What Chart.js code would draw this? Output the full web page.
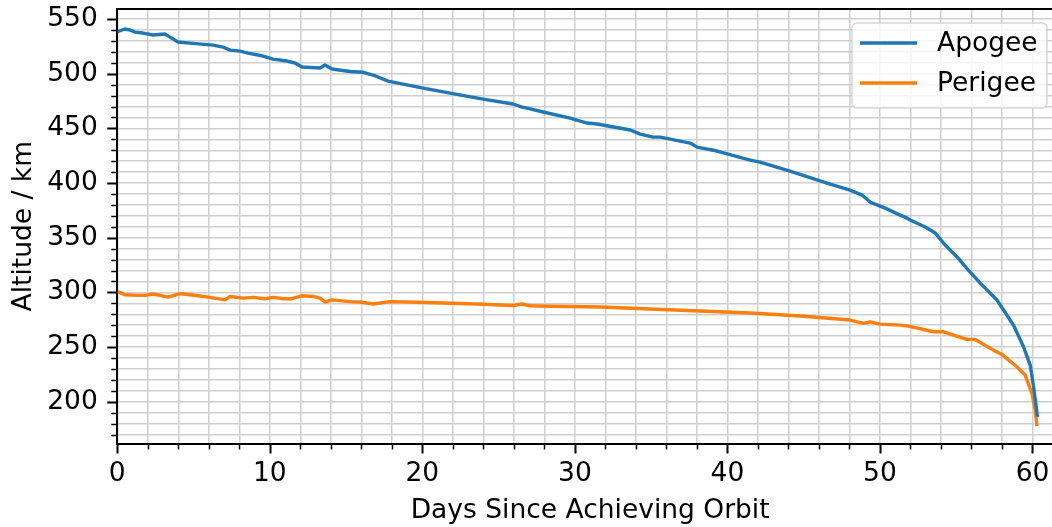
<!DOCTYPE html>
<html>
<head>
<meta charset="utf-8">
<script src="https://cdn.jsdelivr.net/npm/chart.js@4"></script>
<style>
  html, body { margin: 0; padding: 0; background: #fff; overflow: hidden; }
  #wrap { width: 1063px; height: 527px; }
</style>
</head>
<body>
<div id="wrap"><canvas id="orbitChart"></canvas></div>
<script>
// Orbit decay data
const apogeeDays = [0, 0.5, 0.83, 1.16, 1.69, 2.34, 3.13, 3.46, 3.98, 4.77, 6.28, 6.92, 7.39, 8.05, 8.57, 9.55, 10.21, 11.13, 11.65, 12.11, 13.29, 13.62, 14.08, 15.26, 16.11, 16.77, 17.75, 20.05, 21.82, 23.98, 25.95, 26.54, 26.87, 27.92, 29.69, 30.8, 31.46, 33.63, 34.28, 35.13, 35.6, 37.56, 38.01, 39.32, 41.49, 42.14, 44.1, 46.73, 48.04, 48.83, 49.35, 50.34, 51.32, 51.65, 51.98, 52.97, 53.62, 54.28, 55.07, 55.79, 56.58, 57.67, 58.75, 59.41, 59.85, 60.07, 60.33];
const apogeeKm = [538.5, 540.9, 540, 538.1, 537.2, 535.4, 536.3, 533.5, 529, 528, 526.2, 524.4, 521.6, 520.7, 518.9, 516.2, 513.4, 511.6, 509.8, 506.1, 505.2, 507.9, 504.3, 502, 501.3, 498.8, 493.3, 486.9, 482.3, 476.8, 472.3, 469.5, 468.6, 465, 459.4, 454.9, 454, 448.5, 444.8, 442, 442, 436.6, 432.9, 429.3, 421, 419.2, 411, 399.1, 393.6, 389, 382.6, 377.1, 370.7, 368.9, 366.2, 359.8, 354.3, 343.3, 332.3, 320.4, 308.5, 293, 270.1, 250.3, 233.5, 213.7, 186];

const perigeeDays = [0, 0.5, 1.27, 1.82, 2.36, 3.34, 4.11, 4.77, 6.08, 7.06, 7.39, 8.26, 8.92, 9.69, 10.23, 10.89, 11.44, 12.09, 12.85, 13.29, 13.62, 14.06, 15.26, 15.92, 16.79, 17.88, 20.29, 23.57, 25.97, 26.52, 27.06, 28.37, 31.7, 34.9, 38.2, 41.5, 44.8, 48.04, 48.92, 49.36, 50.01, 51.32, 51.87, 53.51, 54.16, 55.7, 56.24, 57.44, 57.99, 58.97, 59.52, 59.96, 60.18, 60.29];
const perigeeKm = [300.8, 297.9, 297.3, 297.3, 298.5, 295.7, 298.8, 297.9, 295.4, 293.2, 296.3, 294.8, 295.4, 294.2, 295.4, 294.2, 294.2, 296.9, 296.3, 294.8, 291.2, 293.2, 291.6, 291.2, 289.4, 291.6, 290.7, 289.4, 288, 289.4, 287.8, 287.3, 286.6, 284.8, 283, 281.2, 278.4, 274.7, 271.7, 273.1, 271, 270.1, 269.2, 264, 264, 257, 257, 247.2, 243.3, 232, 224.4, 207.7, 192.4, 177.7];

// axes: majors get a label, every tick gets a grid line
const xTicks = [0, 2, 4, 6, 8, 10, 12, 14, 16, 18, 20, 22, 24, 26, 28, 30, 32, 34, 36, 38, 40, 42, 44, 46, 48, 50, 52, 54, 56, 58, 60];
const xMajor = [0, 10, 20, 30, 40, 50, 60];
const yTicks = [170, 180, 190, 200, 210, 220, 230, 240, 250, 260, 270, 280, 290, 300, 310, 320, 330, 340, 350, 360, 370, 380, 390, 400, 410, 420, 430, 440, 450, 460, 470, 480, 490, 500, 510, 520, 530, 540, 550];
const yMajor = [200, 250, 300, 350, 400, 450, 500, 550];

const BLUE = '#1f77b4';
const ORANGE = '#ff7f0e';
const GRID = '#cfcfcf';
const FONT_SIZE = 26.5;
const LINE_W = 3.4;

function toPoints(xs, ys) {
  return xs.map((x, i) => ({ x: x, y: ys[i] }));
}

Chart.defaults.font.family = "'DejaVu Sans', sans-serif";
Chart.defaults.font.size = FONT_SIZE;
Chart.defaults.color = '#000';

/* top spine + matplotlib-like outward tick marks + legend box */
const frameAndTicks = {
  id: 'frameAndTicks',
  afterDraw(chart) {
    const { ctx, chartArea, scales } = chart;
    ctx.save();
    ctx.strokeStyle = '#000';
    ctx.lineWidth = 2;
    ctx.beginPath();
    ctx.moveTo(chartArea.left - 1, chartArea.top);
    ctx.lineTo(chartArea.right, chartArea.top);
    ctx.stroke();

    xTicks.forEach(v => {
      const major = xMajor.includes(v);
      const px = Math.round(scales.x.getPixelForValue(v)) + 0.5;
      ctx.lineWidth = major ? 2 : 1.5;
      ctx.beginPath();
      ctx.moveTo(px, chartArea.bottom);
      ctx.lineTo(px, chartArea.bottom + (major ? 10 : 6));
      ctx.stroke();
    });
    yTicks.forEach(v => {
      const major = yMajor.includes(v);
      const py = Math.round(scales.y.getPixelForValue(v)) + 0.5;
      ctx.lineWidth = major ? 2 : 1.5;
      ctx.beginPath();
      ctx.moveTo(chartArea.left, py);
      ctx.lineTo(chartArea.left - (major ? 10 : 6), py);
      ctx.stroke();
    });

    // legend box, upper right
    const bx = chartArea.right - 211, by = chartArea.top + 14, bw = 195, bh = 85;
    ctx.fillStyle = 'rgba(255,255,255,0.8)';
    ctx.strokeStyle = 'rgba(204,204,204,0.8)';
    ctx.lineWidth = 1.5;
    ctx.beginPath();
    ctx.roundRect(bx, by, bw, bh, 5);
    ctx.fill();
    ctx.stroke();
    ctx.font = FONT_SIZE + "px 'DejaVu Sans'";
    ctx.textBaseline = 'middle';
    ctx.textAlign = 'left';
    chart.data.datasets.forEach((ds, i) => {
      const ly = by + 20 + i * 40;
      ctx.strokeStyle = ds.borderColor;
      ctx.lineWidth = LINE_W;
      ctx.beginPath();
      ctx.moveTo(bx + 8, ly);
      ctx.lineTo(bx + 65, ly);
      ctx.stroke();
      ctx.fillStyle = '#000';
      ctx.fillText(ds.label, bx + 85, ly + 1);
    });
    ctx.restore();
  }
};

new Chart(document.getElementById('orbitChart'), {
  type: 'line',
  data: {
    datasets: [
      { label: 'Apogee', data: toPoints(apogeeDays, apogeeKm), borderColor: BLUE, backgroundColor: BLUE, borderWidth: LINE_W },
      { label: 'Perigee', data: toPoints(perigeeDays, perigeeKm), borderColor: ORANGE, backgroundColor: ORANGE, borderWidth: LINE_W }
    ]
  },
  options: {
    responsive: true,
    maintainAspectRatio: false,
    animation: false,
    layout: { padding: { top: 9, left: 0, right: 0, bottom: 0 } },
    elements: {
      line: { tension: 0, borderJoinStyle: 'round', borderCapStyle: 'butt' },
      point: { radius: 0, hoverRadius: 0 }
    },
    plugins: { legend: { display: false }, tooltip: { enabled: false } },
    scales: {
      x: {
        type: 'linear',
        min: 0,
        max: 62.0,
        afterBuildTicks: s => { s.ticks = xTicks.map(v => ({ value: v })); },
        afterFit: s => { s.height = 83.5; s.paddingLeft = 0; s.paddingRight = 0; },
        grid: { color: GRID, lineWidth: 1.5, drawTicks: false },
        border: { color: '#000', width: 2 },
        ticks: {
          autoSkip: false,
          maxRotation: 0,
          padding: 15,
          callback: v => (xMajor.includes(v) ? String(v) : '')
        },
        title: {
          display: true,
          text: 'Days Since Achieving Orbit',
          font: { size: FONT_SIZE, lineHeight: 1.2 },
          padding: { top: 0, bottom: 0 }
        }
      },
      y: {
        type: 'linear',
        min: 161.8,
        max: 559.2,
        afterBuildTicks: s => { s.ticks = yTicks.map(v => ({ value: v })); },
        afterFit: s => { s.width = 117.3; s.paddingTop = 0; s.paddingBottom = 0; },
        grid: { color: GRID, lineWidth: 1.5, drawTicks: false },
        border: { color: '#000', width: 2 },
        ticks: {
          autoSkip: false,
          padding: 19.5,
          callback: v => (yMajor.includes(v) ? String(v) : '')
        },
        title: {
          display: true,
          text: 'Altitude / km',
          font: { size: FONT_SIZE, lineHeight: 1.2 },
          padding: { top: 8, bottom: 0 }
        }
      }
    }
  },
  plugins: [frameAndTicks]
});
</script>
</body>
</html>
